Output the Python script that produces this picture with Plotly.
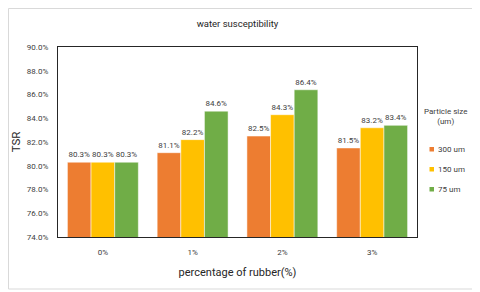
import plotly.graph_objects as go

categories = ["0%", "1%", "2%", "3%"]
series_names = ["300 um", "150 um", "75 um"]
tsr_300 = [80.3, 81.1, 82.5, 81.5]
tsr_150 = [80.3, 82.2, 84.3, 83.2]
tsr_75 = [80.3, 84.6, 86.4, 83.4]
y_ticks = [74, 76, 78, 80, 82, 84, 86, 88, 90]
colors = ["#ED7D31", "#FFC000", "#70AD47"]
legend_title = "Particle size<br>(um)"

FONT = "Roboto, sans-serif"
TXT = "#404040"

# page offset from default body margin
OFF = 8
FW, FH = 480 - OFF, 292 - OFF
# plot area in page pixels
L, R, T, B = 58, 417, 47, 237
W, H = R - L, B - T

def px(x):
    return (x - L) / W

def py(y):
    return (B - y) / H

fig = go.Figure()
for name, vals, col in zip(series_names, [tsr_300, tsr_150, tsr_75], colors):
    fig.add_trace(go.Bar(
        x=categories, y=vals, name=name,
        marker=dict(color=col, line=dict(color="white", width=0.5)),
        texttemplate="%{y:.1f}%", textposition="outside",
        textfont=dict(size=8, color=TXT, family=FONT),
        cliponaxis=False, showlegend=False,
    ))

shapes = [dict(type="rect", xref="paper", yref="paper",
               x0=px(OFF + 0.5), x1=px(477), y0=py(289), y1=py(OFF + 0.5),
               line=dict(color="#d9d9d9", width=1), layer="below")]
annotations = [dict(text=legend_title, xref="paper", yref="paper",
                    x=px(446), y=py(116.5), xanchor="center", yanchor="middle",
                    showarrow=False, font=dict(size=8, color=TXT, family=FONT))]
for i, (name, col) in enumerate(zip(series_names, colors)):
    yc = 149 + 20 * i
    shapes.append(dict(type="rect", xref="paper", yref="paper",
                       x0=px(429.5), x1=px(434), y0=py(yc + 2.5), y1=py(yc - 2),
                       line=dict(width=0), fillcolor=col))
    annotations.append(dict(text=name, xref="paper", yref="paper",
                            x=px(436), y=py(yc), xanchor="left", yanchor="middle",
                            showarrow=False, font=dict(size=8, color=TXT, family=FONT)))

fig.update_layout(
    width=FW, height=FH,
    margin=dict(l=L - OFF, r=480 - R, t=T - OFF, b=292 - B, autoexpand=False),
    paper_bgcolor="white", plot_bgcolor="white",
    barmode="group", bargap=0.21, bargroupgap=0,
    font=dict(family=FONT, color=TXT),
    title=dict(text="water susceptibility", x=0.5, xref="paper", xanchor="center",
               y=1 - (24 - OFF) / FH, yanchor="middle",
               font=dict(size=9.5, color="#262626", family=FONT)),
    showlegend=False,
    xaxis=dict(showgrid=False, showline=True, linecolor="#262626", linewidth=1.2,
               ticks="", tickfont=dict(size=8, color=TXT), ticklabelstandoff=7,
               mirror=True,
               title=dict(text="percentage of rubber(%)", font=dict(size=11, color="#262626"),
                          standoff=12)),
    yaxis=dict(range=[74, 90], tickvals=y_ticks,
               ticktext=[f"{v:.1f}%" for v in y_ticks],
               showgrid=False, showline=True, linecolor="#262626", linewidth=1.2,
               mirror=True, ticks="", tickfont=dict(size=8, color=TXT), ticklabelstandoff=7,
               title=dict(text="TSR", font=dict(size=11.5, color="#262626"), standoff=3)),
    shapes=shapes,
    annotations=annotations,
)

fig.write_html("out.html")
